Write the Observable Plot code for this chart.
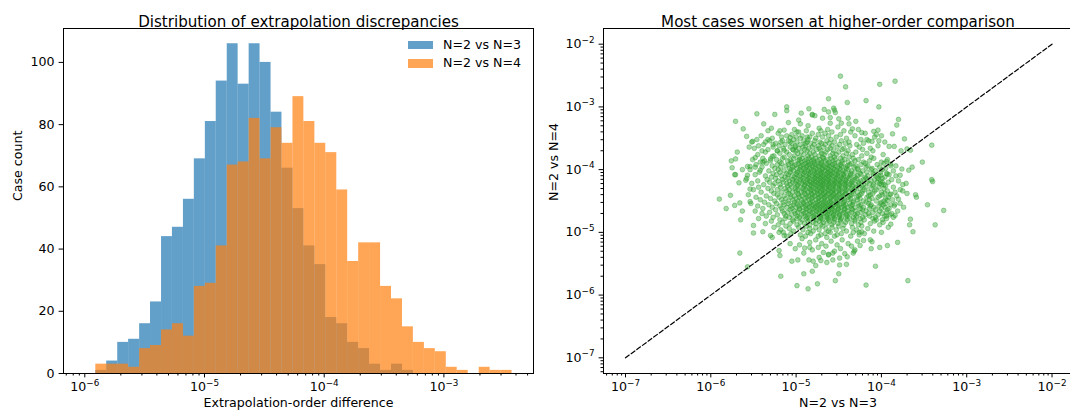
<!DOCTYPE html>
<html><head><meta charset="utf-8">
<script src="https://cdn.jsdelivr.net/npm/d3@7"></script>
<script src="https://cdn.jsdelivr.net/npm/@observablehq/plot@0.6"></script>
<style>
html,body{margin:0;padding:0;background:#fff;overflow:hidden;}
#wrap{position:relative;width:1070px;height:419px;display:flex;overflow:hidden;font-family:"DejaVu Sans",sans-serif;}
#wrap svg{display:block;flex:none;}
.leg{position:absolute;font-size:12.6px;color:#000;white-space:nowrap;line-height:1;}
.sw{position:absolute;width:25px;height:8.8px;}
</style></head><body><div id="wrap"></div>
<script>
// ---------- data ----------
const leftTitle = "Distribution of extrapolation discrepancies";
const rightTitle = "Most cases worsen at higher-order comparison";
const leftXLabel = "Extrapolation-order difference";
const leftYLabel = "Case count";
const rightXLabel = "N=2 vs N=3";
const rightYLabel = "N=2 vs N=4";
const seriesNames = ["N=2 vs N=3", "N=2 vs N=4"];

// histogram bin edges (log10 of value), 39 bins
const binEdgesExp = [-6.000,-5.908,-5.817,-5.725,-5.634,-5.542,-5.451,-5.359,-5.268,-5.176,-5.085,-4.993,-4.902,-4.810,-4.719,-4.627,-4.536,-4.444,-4.353,-4.261,-4.170,-4.078,-3.987,-3.895,-3.804,-3.712,-3.621,-3.529,-3.438,-3.346,-3.255,-3.163,-3.072,-2.980,-2.889,-2.797,-2.705,-2.614,-2.522,-2.431];
const countsN3 = [0,1,4,10,11,16,23,44,47,56,69,81,94,106,93,106,100,84,66,53,41,35,18,16,10,8,3,1,3,1,0,0,0,0,0,0,0,0,0];
const countsN4 = [0,3,3,3,2,8,9,14,16,12,28,29,41,67,68,82,69,79,74,89,81,74,71,59,36,42,42,28,24,15,10,8,7,2,1,0,2,1,1];

const histYTicks = [0,20,40,60,80,100];
const histXMajor = [1e-6,1e-5,1e-4,1e-3];
const scatMajor = [1e-7,1e-6,1e-5,1e-4,1e-3,1e-2];
const diagEnds = [1e-7, 1e-2];

// scatter: outer points [log10 x, log10 y]
const scatterOuter = [
[-4.48,-2.51],[-4.42,-2.68],[-4.02,-2.64],[-3.84,-2.59],[-4.62,-2.87],[-4.40,-2.93],[-4.18,-2.90],[-4.03,-3.00],
[-5.11,-3.00],[-5.11,-3.06],[-4.85,-3.03],[-4.81,-3.13],[-4.78,-3.14],[-4.67,-3.04],[-4.62,-3.08],[-4.55,-3.05],[-4.54,-3.09],[-4.56,-3.02],
[-5.71,-3.23],[-5.62,-3.35],[-5.46,-3.11],[-5.38,-3.27],[-5.29,-3.34],[-5.25,-3.12],[-5.09,-3.25],[-5.19,-3.38],[-5.14,-3.37],
[-4.97,-3.21],[-4.95,-3.27],[-4.94,-3.10],[-4.81,-3.12],[-4.69,-3.18],[-4.60,-3.17],[-4.60,-3.26],[-4.50,-3.19],[-4.47,-3.26],[-4.39,-3.18],[-4.30,-3.23],[-4.38,-3.27],[-4.34,-3.35],[-4.12,-3.23],[-3.80,-3.20],[-3.82,-3.29],
[-4.23,-3.41],[-4.09,-3.39],[-4.04,-3.37],[-4.06,-3.44],[-4.00,-3.46],[-3.87,-3.43],[-4.17,-3.52],[-4.11,-3.55],[-4.03,-3.54],[-3.73,-3.51],[-3.91,-3.63],[-3.85,-3.63],[-3.77,-3.70],[-3.70,-3.67],[-3.66,-3.69],[-3.41,-3.61],[-3.52,-3.88],[-3.94,-3.87],[-3.89,-3.91],[-3.83,-3.94],[-3.76,-3.99],[-3.68,-4.01],[-3.64,-3.96],[-4.01,-4.09],[-3.93,-4.07],[-3.78,-4.09],[-3.41,-4.16],
[-5.58,-3.47],[-5.51,-3.55],[-5.55,-3.64],[-5.69,-3.72],[-5.76,-3.86],[-5.71,-3.83],[-5.75,-3.97],[-5.72,-4.08],[-5.63,-4.00],[-5.57,-3.95],[-5.48,-3.81],[-5.40,-3.70],[-5.36,-3.56],[-5.33,-3.52],[-5.27,-3.60],[-5.22,-3.70],[-5.39,-3.88],[-5.37,-3.86],[-5.30,-3.83],[-5.28,-3.79],[-5.16,-3.54],[-5.14,-3.69],[-5.07,-3.49],[-5.07,-3.56],[-5.11,-3.46],[-4.99,-3.40],[-5.00,-3.48],[-5.01,-3.64],[-5.03,-3.69],[-4.89,-3.58],[-4.87,-3.48],[-5.48,-3.96],[-5.42,-4.01],[-5.54,-3.95],[-5.57,-4.09],
[-5.90,-4.47],[-5.77,-4.41],[-5.82,-4.62],[-5.72,-4.57],[-5.66,-4.53],[-5.63,-4.66],[-5.65,-4.80],[-5.71,-4.08],[-5.67,-4.21],[-5.59,-4.17],[-5.54,-4.31],[-5.54,-4.51],[-5.50,-4.89],[-5.50,-5.01],[-5.39,-4.99],[-5.66,-5.33],[-5.57,-5.55],[-5.30,-5.05],[-5.28,-5.08],[-5.20,-5.00],[-5.20,-5.29],[-5.19,-5.37],[-5.14,-5.05],[-5.07,-5.18],[-5.01,-5.26],[-4.98,-5.44],[-5.05,-5.46],[-4.91,-5.33],[-4.90,-5.25],[-4.84,-5.24],[-5.18,-5.70],[-4.99,-5.85],[-4.91,-5.66],[-4.86,-5.90],[-4.81,-5.62],[-4.75,-5.82],[-4.77,-5.53],[-4.80,-5.46],[-4.85,-5.44],
[-3.40,-4.19],[-3.46,-4.56],[-3.27,-4.65],[-3.37,-4.88],[-3.60,-4.40],[-3.59,-4.44],[-3.75,-4.24],[-3.75,-4.34],[-3.80,-4.47],[-3.84,-4.55],[-3.89,-4.39],[-3.93,-4.49],[-3.95,-4.54],[-3.66,-4.79],[-3.67,-4.88],[-3.63,-4.99],[-3.84,-4.73],[-3.89,-4.87],[-3.94,-4.74],[-3.92,-4.92],[-4.00,-5.00],[-3.81,-5.16],[-3.93,-5.21],[-4.02,-5.24],[-4.12,-5.26],[-4.13,-5.12],[-4.11,-5.15],[-4.07,-5.54],[-3.69,-5.77],[-4.18,-5.84],[-4.50,-5.66],[-4.54,-5.77],[-4.41,-5.51],[-4.32,-5.30],[-4.33,-5.33],[-4.31,-5.28],[-4.40,-5.39],[-4.49,-5.41],[-4.57,-5.33],[-4.62,-5.35],[-4.71,-5.45],[-4.25,-5.21],[-4.21,-5.13],[-4.28,-5.14],[-4.23,-4.99],[-4.26,-5.00]
];

// scatter: dense core, rows of [log10 y, [log10 x ...]]
const scatterCore = [
[-3.30,[-4.86]],[-3.32,[-4.51]],[-3.34,[-4.73]],
[-3.36,[-5.02,-4.63,-4.27]],
[-3.38,[-5.33,-4.88,-4.71,-4.44]],
[-3.40,[-4.97,-4.58,-4.36]],
[-3.42,[-5.21,-4.81,-4.66,-4.19]],
[-3.44,[-5.05,-4.74,-4.48]],
[-3.46,[-5.41,-4.93,-4.62,-4.31]],
[-3.48,[-5.17,-4.84,-4.69,-4.53,-4.08]],
[-3.50,[-5.28,-4.95,-4.77,-4.41]],
[-3.52,[-5.46,-5.03,-4.86,-4.59,-4.24]],
[-3.54,[-5.31,-5.09,-4.91,-4.78,-4.64,-4.47,-4.15]],
[-3.56,[-5.52,-5.18,-4.99,-4.87,-4.72,-4.55,-4.38,-3.96]],
[-3.58,[-5.24,-5.05,-4.83,-4.70,-4.61,-4.42,-4.21]],
[-3.60,[-5.38,-5.13,-4.95,-4.79,-4.66,-4.49,-4.29]],
[-3.62,[-5.44,-5.20,-5.01,-4.89,-4.74,-4.58,-4.37,-4.04]],
[-3.64,[-5.27,-5.07,-4.92,-4.81,-4.68,-4.52,-4.26]],
[-3.66,[-5.49,-5.15,-4.97,-4.85,-4.73,-4.60,-4.44,-4.13]],
[-3.68,[-5.33,-5.04,-4.90,-4.76,-4.63,-4.46,-4.22]],
[-3.70,[-5.22,-5.00,-4.87,-4.71,-4.56,-4.39,-4.10]],
[-3.72,[-5.36,-5.11,-4.94,-4.80,-4.65,-4.50,-4.30]],
[-3.74,[-5.19,-4.98,-4.84,-4.70,-4.57,-4.41,-4.17]],
[-3.76,[-5.45,-5.08,-4.91,-4.78,-4.67,-4.53,-4.34,-3.98]],
[-3.78,[-5.26,-5.02,-4.86,-4.73,-4.60,-4.45,-4.23]],
[-3.80,[-5.14,-4.96,-4.82,-4.69,-4.55,-4.38,-4.12]],
[-3.82,[-5.39,-5.16,-5.03,-4.93,-4.85,-4.77,-4.68,-4.59,-4.48,-4.33,-4.09]],
[-3.84,[-5.51,-5.23,-5.07,-4.96,-4.88,-4.80,-4.72,-4.64,-4.54,-4.43,-4.27,-3.93]],
[-3.86,[-5.30,-5.10,-4.98,-4.90,-4.82,-4.75,-4.66,-4.57,-4.46,-4.31,-4.14]],
[-3.88,[-5.42,-5.19,-5.05,-4.94,-4.86,-4.79,-4.70,-4.61,-4.51,-4.39,-4.21,-4.00]],
[-3.90,[-5.35,-5.17,-5.06,-4.97,-4.89,-4.83,-4.76,-4.70,-4.62,-4.55,-4.46,-4.35,-4.19,-3.97]],
[-3.92,[-5.47,-5.22,-5.09,-5.00,-4.92,-4.85,-4.78,-4.71,-4.64,-4.57,-4.48,-4.37,-4.24,-4.05]],
[-3.94,[-5.28,-5.12,-5.02,-4.94,-4.87,-4.81,-4.74,-4.68,-4.61,-4.54,-4.47,-4.40,-4.30,-4.16,-3.89]],
[-3.96,[-5.40,-5.18,-5.04,-4.95,-4.88,-4.80,-4.73,-4.66,-4.59,-4.51,-4.42,-4.32,-4.18,-4.02]],
[-3.98,[-5.25,-5.08,-4.99,-4.91,-4.84,-4.77,-4.69,-4.63,-4.56,-4.49,-4.41,-4.28,-4.11,-3.95]],
[-4.00,[-5.54,-5.21,-5.06,-4.96,-4.89,-4.82,-4.75,-4.69,-4.62,-4.55,-4.48,-4.39,-4.27,-4.12,-3.99]],
[-4.02,[-5.32,-5.14,-5.03,-4.94,-4.86,-4.79,-4.72,-4.66,-4.60,-4.53,-4.45,-4.35,-4.22,-4.07,-3.86]],
[-4.04,[-5.43,-5.19,-5.07,-4.98,-4.90,-4.83,-4.76,-4.70,-4.63,-4.57,-4.50,-4.42,-4.31,-4.17,-4.01]],
[-4.06,[-5.27,-5.11,-5.00,-4.92,-4.85,-4.78,-4.71,-4.64,-4.58,-4.51,-4.44,-4.36,-4.25,-4.10,-3.94]],
[-4.08,[-5.48,-5.23,-5.09,-4.99,-4.91,-4.84,-4.77,-4.71,-4.65,-4.59,-4.52,-4.45,-4.36,-4.24,-4.09,-3.91]],
[-4.10,[-5.36,-5.17,-5.05,-4.96,-4.88,-4.81,-4.75,-4.69,-4.63,-4.57,-4.51,-4.44,-4.37,-4.28,-4.16,-4.03,-3.83]],
[-4.12,[-5.29,-5.13,-5.02,-4.94,-4.86,-4.79,-4.73,-4.67,-4.61,-4.54,-4.47,-4.40,-4.31,-4.19,-4.05,-3.96]],
[-4.14,[-5.58,-5.24,-5.10,-5.00,-4.92,-4.85,-4.78,-4.72,-4.66,-4.60,-4.53,-4.46,-4.38,-4.29,-4.18,-4.04,-3.99]],
[-4.16,[-5.34,-5.16,-5.04,-4.95,-4.87,-4.80,-4.74,-4.68,-4.62,-4.55,-4.48,-4.41,-4.32,-4.21,-4.08,-3.88]],
[-4.18,[-5.45,-5.21,-5.08,-4.99,-4.91,-4.84,-4.78,-4.72,-4.67,-4.61,-4.55,-4.49,-4.42,-4.34,-4.24,-4.12,-4.01,-3.80]],
[-4.20,[-5.31,-5.15,-5.04,-4.96,-4.89,-4.83,-4.77,-4.71,-4.65,-4.60,-4.54,-4.48,-4.42,-4.35,-4.27,-4.17,-4.05,-3.99,-3.92]],
[-4.22,[-5.52,-5.25,-5.11,-5.01,-4.93,-4.86,-4.80,-4.74,-4.68,-4.62,-4.56,-4.50,-4.43,-4.36,-4.26,-4.14,-4.02,-3.71]],
[-4.24,[-5.38,-5.19,-5.07,-4.98,-4.90,-4.84,-4.78,-4.72,-4.67,-4.61,-4.55,-4.49,-4.43,-4.37,-4.30,-4.21,-4.09,-4.00,-3.97]],
[-4.26,[-5.27,-5.10,-4.99,-4.90,-4.82,-4.75,-4.69,-4.62,-4.56,-4.49,-4.42,-4.34,-4.23,-4.10,-3.95]],
[-4.28,[-5.44,-5.18,-5.05,-4.95,-4.87,-4.80,-4.73,-4.67,-4.61,-4.54,-4.47,-4.39,-4.30,-4.18,-4.03,-3.86]],
[-4.30,[-5.33,-5.13,-5.01,-4.92,-4.84,-4.77,-4.70,-4.64,-4.57,-4.50,-4.43,-4.35,-4.25,-4.12,-3.97]],
[-4.32,[-5.50,-5.22,-5.08,-4.98,-4.89,-4.82,-4.75,-4.69,-4.62,-4.56,-4.49,-4.41,-4.32,-4.20,-4.06,-3.78]],
[-4.34,[-5.29,-5.11,-5.00,-4.91,-4.83,-4.76,-4.70,-4.63,-4.57,-4.50,-4.43,-4.34,-4.22,-4.08,-3.93]],
[-4.36,[-5.41,-5.17,-5.04,-4.94,-4.86,-4.79,-4.72,-4.66,-4.59,-4.53,-4.46,-4.38,-4.28,-4.15,-4.00,-3.84]],
[-4.38,[-5.26,-5.09,-4.98,-4.90,-4.82,-4.75,-4.68,-4.62,-4.56,-4.49,-4.42,-4.33,-4.23,-4.10,-3.96,-3.70]],
[-4.40,[-5.56,-5.22,-5.07,-4.97,-4.88,-4.81,-4.74,-4.68,-4.62,-4.56,-4.50,-4.43,-4.35,-4.25,-4.13,-3.99,-3.90]],
[-4.42,[-5.35,-5.14,-5.02,-4.93,-4.85,-4.78,-4.71,-4.65,-4.58,-4.52,-4.45,-4.37,-4.27,-4.15,-4.02,-3.82]],
[-4.44,[-5.47,-5.20,-5.06,-4.96,-4.87,-4.80,-4.73,-4.67,-4.60,-4.54,-4.47,-4.39,-4.29,-4.17,-4.04,-3.92]],
[-4.46,[-5.30,-5.12,-5.00,-4.90,-4.82,-4.74,-4.67,-4.60,-4.53,-4.45,-4.36,-4.25,-4.11,-3.95]],
[-4.48,[-5.42,-5.17,-5.04,-4.94,-4.85,-4.77,-4.70,-4.63,-4.56,-4.48,-4.39,-4.28,-4.14,-3.87]],
[-4.50,[-5.25,-5.09,-4.98,-4.89,-4.81,-4.73,-4.66,-4.59,-4.51,-4.43,-4.33,-4.21,-4.06,-3.97]],
[-4.52,[-5.37,-5.15,-5.02,-4.92,-4.83,-4.75,-4.68,-4.61,-4.53,-4.44,-4.33,-4.18,-4.00]],
[-4.54,[-5.53,-5.23,-5.09,-4.99,-4.91,-4.84,-4.77,-4.71,-4.65,-4.59,-4.52,-4.45,-4.37,-4.27,-4.15,-4.01,-3.78]],
[-4.56,[-5.32,-5.14,-5.03,-4.94,-4.87,-4.80,-4.74,-4.68,-4.62,-4.56,-4.49,-4.42,-4.34,-4.24,-4.12,-3.98,-3.89]],
[-4.58,[-5.45,-5.19,-5.06,-4.97,-4.89,-4.82,-4.76,-4.70,-4.64,-4.58,-4.51,-4.44,-4.36,-4.26,-4.13,-4.03,-3.85]],
[-4.60,[-5.28,-5.11,-5.00,-4.92,-4.85,-4.78,-4.72,-4.66,-4.60,-4.54,-4.47,-4.40,-4.31,-4.21,-4.09,-3.96,-3.74]],
[-4.62,[-5.39,-5.17,-5.05,-4.96,-4.88,-4.81,-4.75,-4.69,-4.63,-4.57,-4.50,-4.43,-4.35,-4.25,-4.14,-4.00,-3.91]],
[-4.64,[-5.24,-5.07,-4.96,-4.87,-4.79,-4.72,-4.65,-4.58,-4.51,-4.43,-4.34,-4.22,-4.07,-3.93]],
[-4.66,[-5.48,-5.16,-5.02,-4.92,-4.84,-4.76,-4.69,-4.62,-4.55,-4.48,-4.40,-4.30,-4.18,-4.02,-3.81]],
[-4.68,[-5.31,-5.10,-4.98,-4.89,-4.81,-4.73,-4.66,-4.59,-4.52,-4.44,-4.35,-4.24,-4.10,-3.94]],
[-4.70,[-5.40,-5.14,-5.01,-4.91,-4.83,-4.75,-4.68,-4.61,-4.54,-4.46,-4.38,-4.28,-4.15,-3.99,-3.88]],
[-4.72,[-5.22,-5.05,-4.94,-4.85,-4.77,-4.70,-4.63,-4.56,-4.49,-4.41,-4.31,-4.19,-4.04,-3.90]],
[-4.74,[-5.35,-5.12,-4.99,-4.89,-4.80,-4.72,-4.64,-4.57,-4.49,-4.40,-4.29,-4.14,-3.96]],
[-4.76,[-5.27,-5.08,-4.96,-4.87,-4.79,-4.71,-4.64,-4.57,-4.50,-4.42,-4.33,-4.22,-4.07,-3.86]],
[-4.78,[-5.44,-5.13,-4.99,-4.88,-4.79,-4.71,-4.63,-4.55,-4.47,-4.37,-4.25,-4.10,-3.94]],
[-4.80,[-5.19,-5.04,-4.93,-4.84,-4.76,-4.69,-4.62,-4.55,-4.48,-4.40,-4.31,-4.20,-4.06,-3.99]],
[-4.82,[-5.29,-5.03,-4.86,-4.73,-4.61,-4.48,-4.31,-4.08]],
[-4.84,[-5.16,-4.95,-4.80,-4.68,-4.56,-4.42,-4.24,-3.98]],
[-4.86,[-5.36,-5.07,-4.90,-4.77,-4.64,-4.51,-4.35,-4.13]],
[-4.88,[-5.21,-4.99,-4.84,-4.71,-4.58,-4.44,-4.27,-4.02]],
[-4.90,[-5.12,-4.88,-4.69,-4.50,-4.23]],
[-4.92,[-5.26,-4.97,-4.77,-4.58,-4.34]],
[-4.94,[-5.08,-4.84,-4.65,-4.45,-4.16]],
[-4.96,[-5.18,-4.92,-4.73,-4.53,-4.29]],
[-4.98,[-5.03,-4.80,-4.62,-4.41,-4.09]],
[-5.00,[-5.15,-4.86,-4.60,-4.33]],
[-5.02,[-5.06,-4.83,-4.66,-4.47,-4.20]],
[-5.04,[-4.95,-4.71,-4.52,-4.26]],
[-5.06,[-5.11,-4.89,-4.74,-4.55,-4.36]],
[-5.08,[-4.64]],[-5.10,[-4.93]],[-5.12,[-4.77,-4.46]],[-5.14,[-4.59]],[-5.16,[-4.84]],
[-5.18,[-4.70,-4.39]],[-5.20,[-4.96,-4.52]],[-5.22,[-4.65,-4.35]],[-5.24,[-4.74]],[-5.26,[-4.48]],
[-5.28,[-4.81]],[-5.30,[-4.55]],[-5.32,[-4.68]],[-5.34,[-4.43]],[-5.36,[-4.62]],[-5.40,[-4.73]],
[-5.44,[-4.57]],[-5.48,[-4.64]],[-5.52,[-4.49]]
];

// ---------- build ----------
const powFmt = d => "10^" + Math.round(Math.log10(d));
const minorOf = (domain, majors) => d3.scaleLog().domain(domain).ticks()
  .filter(t => !majors.some(m => Math.abs(t / m - 1) < 1e-6));

const histRows = (counts, s) => counts.map((c, i) => ({x1: 10 ** binEdgesExp[i], x2: 10 ** binEdgesExp[i + 1], y: c, s}));
const rowsN3 = histRows(countsN3, seriesNames[0]);
const rowsN4 = histRows(countsN4, seriesNames[1]);

const pts = scatterOuter.map(([a, b]) => ({x: 10 ** a, y: 10 ** b}));
for (const [ly, xs] of scatterCore) for (const lx of xs) pts.push({x: 10 ** lx, y: 10 ** ly});

const FONT = "DejaVu Sans, sans-serif";
const FS = 12.6;
const baseStyle = {fontFamily: FONT, fontSize: FS + "px", background: "transparent", color: "#000", overflow: "visible"};
const TK = 4.4, TKm = 2.5, PAD = 4.6;

const blue = "#1f77b4", orange = "#ff7f0e", green = "#2ca02c";

const leftXDomain = [10 ** -6.178, 10 ** -2.2515];
const left = Plot.plot({
  width: 560, height: 419,
  marginLeft: 63, marginRight: 27, marginTop: 28, marginBottom: 46,
  style: baseStyle,
  x: {type: "log", domain: leftXDomain},
  y: {domain: [0, 110.9]},
  marks: [
    Plot.rectY(rowsN3, {x1: "x1", x2: "x2", y: "y", fill: blue, fillOpacity: 0.7, inset: 0}),
    Plot.rectY(rowsN4, {x1: "x1", x2: "x2", y: "y", fill: orange, fillOpacity: 0.7, inset: 0}),
    Plot.frame({stroke: "#000", strokeWidth: 1}),
    Plot.axisX({ticks: histXMajor, tickFormat: powFmt, tickSize: TK, tickPadding: PAD, label: null, fontSize: FS}),
    Plot.axisX({ticks: minorOf(leftXDomain, histXMajor), tickFormat: () => "", tickSize: TKm, label: null}),
    Plot.axisY({ticks: histYTicks, tickSize: TK, tickPadding: PAD, label: null, fontSize: FS}),
    Plot.text([leftTitle], {frameAnchor: "top", dy: -12, fontSize: 15.1, fill: "#000"}),
    Plot.text([leftXLabel], {frameAnchor: "bottom", dy: 33, fontSize: FS, fill: "#000"}),
    Plot.text([leftYLabel], {frameAnchor: "left", dx: -46, rotate: -90, fontSize: FS, fill: "#000"})
  ]
});

const rightXDomain = [10 ** -7.258, 10 ** -1.76];
const rightYDomain = [10 ** -7.25, 10 ** -1.75];
const right = Plot.plot({
  width: 512, height: 419,
  marginLeft: 43, marginRight: 0, marginTop: 28, marginBottom: 46,
  style: baseStyle,
  x: {type: "log", domain: rightXDomain},
  y: {type: "log", domain: rightYDomain},
  marks: [
    Plot.dot(pts, {x: "x", y: "y", r: 2.35, fill: green, fillOpacity: 0.4, stroke: green, strokeOpacity: 0.4, strokeWidth: 1}),
    Plot.line(diagEnds.map(v => ({x: v, y: v})), {x: "x", y: "y", stroke: "#000", strokeWidth: 1.2, strokeDasharray: "4.6,2.4"}),
    Plot.frame({stroke: "#000", strokeWidth: 1}),
    Plot.axisX({ticks: scatMajor, tickFormat: powFmt, tickSize: TK, tickPadding: PAD, label: null, fontSize: FS}),
    Plot.axisX({ticks: minorOf(rightXDomain, scatMajor), tickFormat: () => "", tickSize: TKm, label: null}),
    Plot.axisY({ticks: scatMajor, tickFormat: powFmt, tickSize: TK, tickPadding: PAD, label: null, fontSize: FS}),
    Plot.axisY({ticks: minorOf(rightYDomain, scatMajor), tickFormat: () => "", tickSize: TKm, label: null}),
    Plot.text([rightTitle], {frameAnchor: "top", dy: -12, fontSize: 15.1, fill: "#000"}),
    Plot.text([rightXLabel], {frameAnchor: "bottom", dy: 33, fontSize: FS, fill: "#000"}),
    Plot.text([rightYLabel], {frameAnchor: "left", dx: -50, rotate: -90, fontSize: FS, fill: "#000"})
  ]
});

// turn "10^-6" tick labels into real superscripts
function supify(svg) {
  svg.querySelectorAll("text").forEach(t => {
    const s = t.textContent;
    const m = /^10\^(-?\d+)$/.exec(s);
    if (!m) return;
    t.textContent = "10";
    const ts = document.createElementNS("http://www.w3.org/2000/svg", "tspan");
    ts.setAttribute("font-size", "70%");
    ts.setAttribute("dy", "-0.62em");
    ts.textContent = m[1].replace("-", "\u2212");
    t.appendChild(ts);
  });
}
supify(left); supify(right);

const wrap = document.getElementById("wrap");
wrap.appendChild(left);
wrap.appendChild(right);

// legend (upper right of left panel)
const legItems = [{name: seriesNames[0], color: blue}, {name: seriesNames[1], color: orange}];
legItems.forEach((it, i) => {
  const sw = document.createElement("div");
  sw.className = "sw";
  sw.style.left = "408px"; sw.style.top = (40.6 + i * 18.8) + "px";
  sw.style.background = it.color; sw.style.opacity = 0.7;
  wrap.appendChild(sw);
  const tx = document.createElement("div");
  tx.className = "leg";
  tx.textContent = it.name;
  tx.style.left = "443px"; tx.style.top = (38.6 + i * 18.8) + "px";
  wrap.appendChild(tx);
});
</script></body></html>
